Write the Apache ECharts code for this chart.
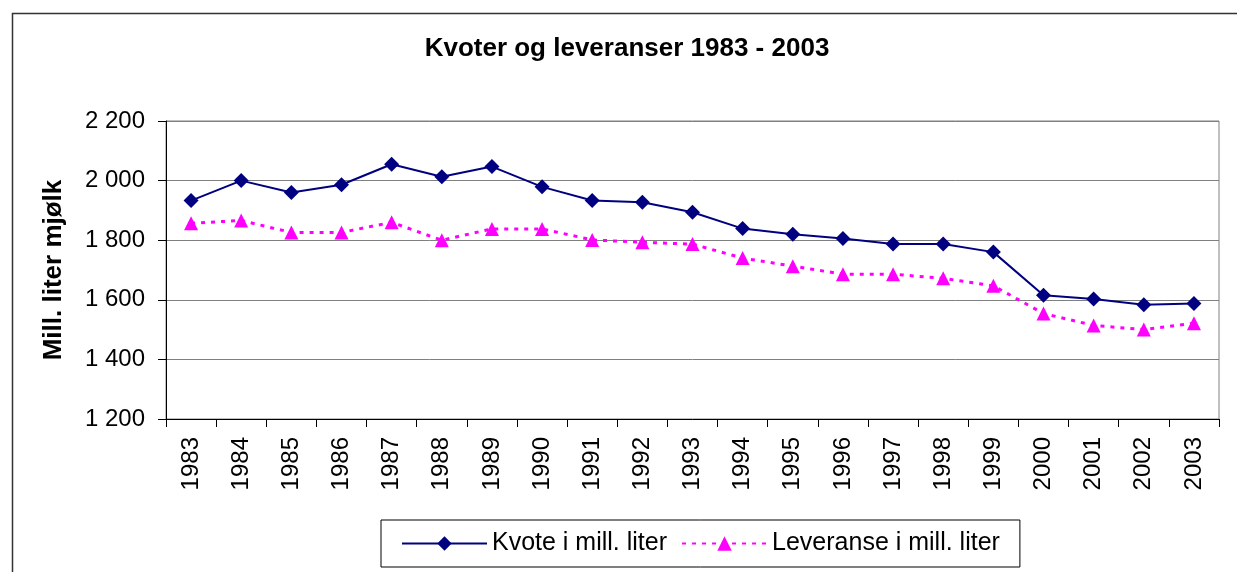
<!DOCTYPE html>
<html>
<head>
<meta charset="utf-8">
<script src="https://cdn.jsdelivr.net/npm/echarts@6/dist/echarts.min.js"></script>
<style>
html,body{margin:0;padding:0;background:#fff;}
#c{width:1237px;height:572px;}
</style>
</head>
<body>
<div id="c"></div>
<script>
const titleText = 'Kvoter og leveranser 1983 - 2003';
const yAxisName = 'Mill. liter mjølk';
const years = ['1983','1984','1985','1986','1987','1988','1989','1990','1991','1992','1993','1994','1995','1996','1997','1998','1999','2000','2001','2002','2003'];
const kvote = [1933,2000,1960,1986,2055,2013,2047,1979,1933,1927,1894,1839,1820,1806,1787,1787,1760,1615,1603,1583,1588];
const leveranse = [1857,1866,1826,1826,1860,1800,1838,1838,1801,1793,1787,1740,1713,1686,1686,1672,1647,1554,1514,1500,1521];
const seriesNames = ['Kvote i mill. liter','Leveranse i mill. liter'];
const yMin = 1200, yMax = 2200, yStep = 200;

const fmt = v => String(v).replace(/\B(?=(\d{3})+(?!\d))/g, ' ');
const FONT = '"Liberation Sans", Arial, sans-serif';

const chart = echarts.init(document.getElementById('c'), null, {renderer:'canvas'});
chart.setOption({
  backgroundColor:'#fff',
  animation:false,
  textStyle:{fontFamily:FONT},
  graphic:[{
    type:'rect', left:10, top:11, z:-10,
    shape:{width:1240, height:600},
    style:{fill:'none', stroke:'#333', lineWidth:1.5}
  }],
  title:{
    text:titleText, left:622, top:31, textAlign:'center',
    textStyle:{fontFamily:FONT, fontSize:26, fontWeight:'bold', color:'#000'}
  },
  legend:{
    left:381, top:520,
    padding:[11,20], itemGap:14, itemWidth:85, itemHeight:18,
    borderColor:'#000', borderWidth:1,
    textStyle:{fontFamily:FONT, fontSize:25, color:'#000'},
    data:seriesNames
  },
  grid:{left:166, top:121, right:18, bottom:153, show:true, borderColor:'#808080', borderWidth:1, backgroundColor:'transparent'},
  xAxis:{
    type:'category', data:years, boundaryGap:true,
    axisLine:{lineStyle:{color:'#000', width:1}},
    axisTick:{show:true, interval:0, length:8, lineStyle:{color:'#000'}},
    axisLabel:{rotate:90, interval:0, margin:18, fontFamily:FONT, fontSize:24, color:'#000'},
    splitLine:{show:false}
  },
  yAxis:{
    type:'value', min:yMin, max:yMax, interval:yStep,
    name:yAxisName, nameLocation:'middle', nameGap:99, nameRotate:90,
    nameTextStyle:{fontFamily:FONT, fontSize:26, fontWeight:'bold', color:'#000'},
    axisLine:{show:true, lineStyle:{color:'#000', width:1}},
    axisTick:{show:true, length:8, lineStyle:{color:'#000'}},
    axisLabel:{margin:21, fontFamily:FONT, fontSize:24, color:'#000', formatter:fmt},
    splitLine:{show:true, lineStyle:{color:'#808080', width:1}}
  },
  series:[
    {
      name:seriesNames[0], type:'line', data:kvote,
      symbol:'diamond', symbolSize:15,
      lineStyle:{color:'#000080', width:2},
      itemStyle:{color:'#000080'},
      z:3
    },
    {
      name:seriesNames[1], type:'line', data:leveranse,
      symbol:'triangle', symbolSize:14,
      lineStyle:{color:'#ff00ff', width:3, type:[4,6]},
      itemStyle:{color:'#ff00ff'},
      z:2
    }
  ]
});
</script>
</body>
</html>
